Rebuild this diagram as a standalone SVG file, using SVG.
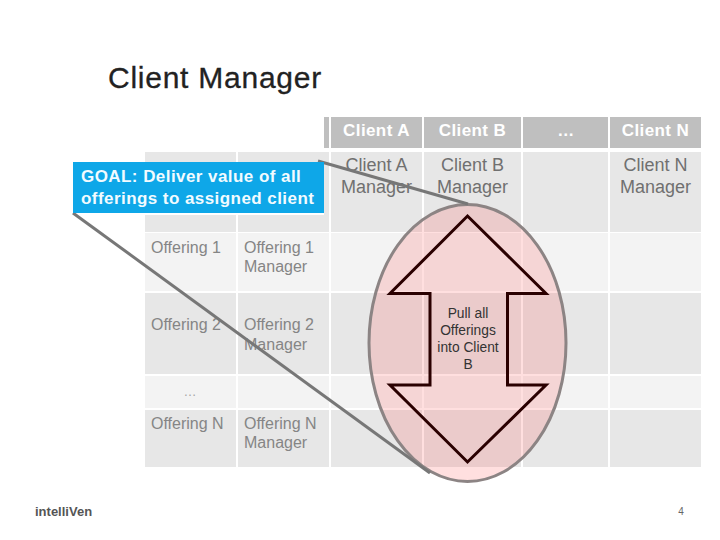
<svg xmlns="http://www.w3.org/2000/svg" width="720" height="540" viewBox="0 0 720 540">
<style>
text{font-family:"Liberation Sans",Arial,sans-serif}
.h{fill:#bfbfbf}.d{fill:#e7e7e7}.l{fill:#f3f3f3}
.ht{font-size:17px;font-weight:bold;fill:#fff;text-anchor:middle;letter-spacing:.4px}
.mt{font-size:18px;fill:#707070;text-anchor:middle}
.ot{font-size:16px;fill:#858585}
.conn{stroke:#777;stroke-width:3;fill:none}
</style>
<rect width="720" height="540" fill="#fff"/>
<g id="title"><text x="108" y="88" font-size="30" fill="#222" stroke="#222" stroke-width=".3" letter-spacing=".75">Client Manager</text></g>
<g id="grid">
<rect class="h" x="324" y="117" width="5" height="31"/>
<rect class="h" x="331" y="117" width="91" height="31"/>
<rect class="h" x="424" y="117" width="97" height="31"/>
<rect class="h" x="523" y="117" width="85" height="31"/>
<rect class="h" x="610" y="117" width="91" height="31"/>
<rect class="d" x="145" y="152" width="91" height="80"/>
<rect class="d" x="238" y="152" width="91" height="80"/>
<rect class="d" x="331" y="152" width="91" height="80"/>
<rect class="d" x="424" y="152" width="97" height="80"/>
<rect class="d" x="523" y="152" width="85" height="80"/>
<rect class="d" x="610" y="152" width="91" height="80"/>
<rect class="l" x="145" y="233" width="91" height="58"/>
<rect class="l" x="238" y="233" width="91" height="58"/>
<rect class="l" x="331" y="233" width="91" height="58"/>
<rect class="l" x="424" y="233" width="97" height="58"/>
<rect class="l" x="523" y="233" width="85" height="58"/>
<rect class="l" x="610" y="233" width="91" height="58"/>
<rect class="d" x="145" y="293" width="91" height="81"/>
<rect class="d" x="238" y="293" width="91" height="81"/>
<rect class="d" x="331" y="293" width="91" height="81"/>
<rect class="d" x="424" y="293" width="97" height="81"/>
<rect class="d" x="523" y="293" width="85" height="81"/>
<rect class="d" x="610" y="293" width="91" height="81"/>
<rect class="l" x="145" y="376" width="91" height="32"/>
<rect class="l" x="238" y="376" width="91" height="32"/>
<rect class="l" x="331" y="376" width="91" height="32"/>
<rect class="l" x="424" y="376" width="97" height="32"/>
<rect class="l" x="523" y="376" width="85" height="32"/>
<rect class="l" x="610" y="376" width="91" height="32"/>
<rect class="d" x="145" y="410" width="91" height="57"/>
<rect class="d" x="238" y="410" width="91" height="57"/>
<rect class="d" x="331" y="410" width="91" height="57"/>
<rect class="d" x="424" y="410" width="97" height="57"/>
<rect class="d" x="523" y="410" width="85" height="57"/>
<rect class="d" x="610" y="410" width="91" height="57"/>
<text class="ht" x="376.500" y="136">Client A</text>
<text class="ht" x="472.500" y="136">Client B</text>
<text class="ht" x="566" y="136">…</text>
<text class="ht" x="655.500" y="136">Client N</text>
<text class="mt" x="376.500" y="171">Client A</text><text class="mt" x="376.500" y="193">Manager</text>
<text class="mt" x="472.500" y="171">Client B</text><text class="mt" x="472.500" y="193">Manager</text>
<text class="mt" x="655.500" y="171">Client N</text><text class="mt" x="655.500" y="193">Manager</text>
<text class="ot" x="151" y="253">Offering 1</text>
<text class="ot" x="244" y="253">Offering 1</text><text class="ot" x="244" y="272">Manager</text>
<text class="ot" x="151" y="330">Offering 2</text>
<text class="ot" x="244" y="330">Offering 2</text><text class="ot" x="244" y="350">Manager</text>
<text x="190" y="396" font-size="13" fill="#a5a5a5" text-anchor="middle">…</text>
<text class="ot" x="151" y="429">Offering N</text>
<text class="ot" x="244" y="429">Offering N</text><text class="ot" x="244" y="448">Manager</text>
</g>
<g id="highlight"><ellipse cx="467.500" cy="343" rx="98.500" ry="138.500" fill="#ff6060" fill-opacity="0.2" stroke="#8c8484" stroke-width="3"/></g>
<g id="double-arrow">
<polygon points="467.500,216 546,293.500 507.500,293.500 507.500,385 546,385 467.500,462 390,385 430,385 430,293.500 390,293.500" fill="none" stroke="#2a0000" stroke-width="3"/>
<g font-size="13.800" fill="#333" text-anchor="middle">
<text x="468" y="318">Pull all</text><text x="468" y="335">Offerings</text><text x="468" y="352">into Client</text><text x="468" y="369">B</text></g>
</g>
<g id="connectors">
<path class="conn" d="M73 213L430 473"/>
<path class="conn" d="M318 161L468 204"/>
</g>
<g id="goal">
<rect x="145" y="213" width="179" height="2" fill="#fff"/>
<rect x="73" y="162" width="251" height="51" fill="#0ea7e8"/>
<text x="81" y="182" font-size="17" font-weight="bold" fill="#f2fbff" letter-spacing=".44">GOAL: Deliver value of all</text>
<text x="81" y="204" font-size="17" font-weight="bold" fill="#f2fbff" letter-spacing=".44">offerings to assigned client</text>
</g>
<g id="footer">
<text x="35" y="516" font-size="13" font-weight="bold" fill="#555">intelliVen</text>
<text x="681" y="515" font-size="10" fill="#666" text-anchor="middle">4</text>
</g>
</svg>
